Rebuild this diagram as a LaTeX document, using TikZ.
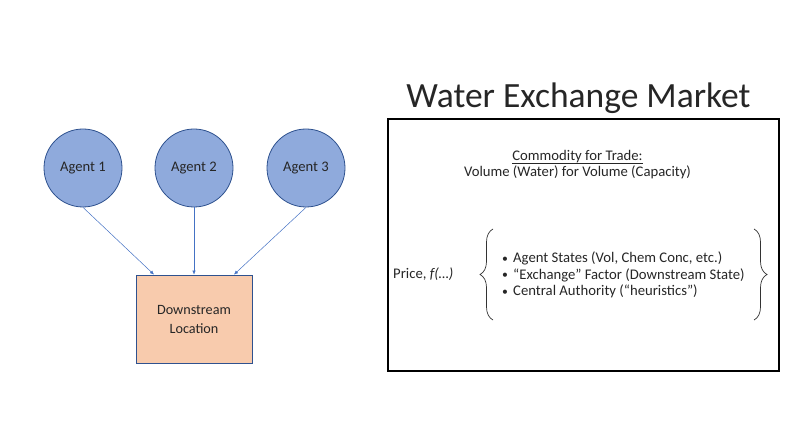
\documentclass[tikz,border=0pt]{standalone}
\usepackage{fontspec}
\setmainfont{Carlito}
\usetikzlibrary{arrows.meta,decorations.pathreplacing}
\definecolor{agentfill}{HTML}{8FAADC}
\definecolor{agentline}{HTML}{2F528F}
\definecolor{locfill}{HTML}{F8CBAD}
\definecolor{arrowcol}{HTML}{4472C4}
\tikzset{
  agent/.style={circle,draw=agentline,fill=agentfill,line width=0.8pt,minimum size=78pt,inner sep=0pt,font=\fontsize{14.6}{16}\selectfont,text=black!85},
  loc/.style={rectangle,draw=agentline,fill=locfill,line width=0.8pt,minimum width=116pt,minimum height=88pt,align=center,font=\fontsize{14.2}{19}\selectfont,text=black!85},
  flow/.style={draw=arrowcol,line width=0.5pt,-{Latex[length=4pt,width=3.5pt]}},
  body/.style={font=\fontsize{14.7}{16.5}\selectfont,text=black!85,inner sep=0pt},
}
\newcommand{\bul}{\makebox[11pt][l]{\raisebox{0.5pt}{\scalebox{0.8}{•}}}}
\begin{document}
\begin{tikzpicture}[x=1pt,y=-1pt]
\useasboundingbox (0,0) rectangle (794,446);
\node[agent] (a1) at (83,168) {Agent 1};
\node[agent] (a2) at (194,168) {Agent 2};
\node[agent] (a3) at (306,168) {Agent 3};
\node[loc] (dl) at (194,319) {Downstream\\Location};
\draw[flow] (a1.south) -- ([xshift=-40pt]dl.north);
\draw[flow] (a2.south) -- (dl.north);
\draw[flow] (a3.south) -- ([xshift=40pt]dl.north);

\node[font=\fontsize{35.5}{40}\selectfont,text=black!85,anchor=base,inner sep=0pt] (title) at (578.5,108) {Water Exchange Market};
\node[draw=black,line width=1.8pt,minimum width=391pt,minimum height=252pt,inner sep=0pt] (mkt) at (583.5,245) {};
\node[body,anchor=base] (comm) at (577.5,161) {Commodity for Trade:};
\draw[black!85,line width=0.6pt] ([yshift=-2pt]comm.base west) -- ([yshift=-2pt]comm.base east);
\node[body,anchor=base] (vol) at (577.5,177) {Volume (Water) for Volume (Capacity)};
\node[body,anchor=west] (price) at (393,274) {Price, \textit{f(…)}};
\node[body,anchor=west,align=left] (list) at (502,275) {\bul Agent States (Vol, Chem Conc, etc.)\\\bul “Exchange” Factor (Downstream State)\\\bul Central Authority (“heuristics”)};
\coordinate (lbt) at (493,229);
\coordinate (lbb) at (493,320);
\coordinate (rbt) at (754,229);
\coordinate (rbb) at (754,320);
\draw[line width=0.7pt,black!80,decoration={brace,amplitude=13pt,aspect=0.5},decorate] (lbb) -- (lbt);
\draw[line width=0.7pt,black!80,decoration={brace,amplitude=13pt,aspect=0.5},decorate] (rbt) -- (rbb);
\end{tikzpicture}
\end{document}
